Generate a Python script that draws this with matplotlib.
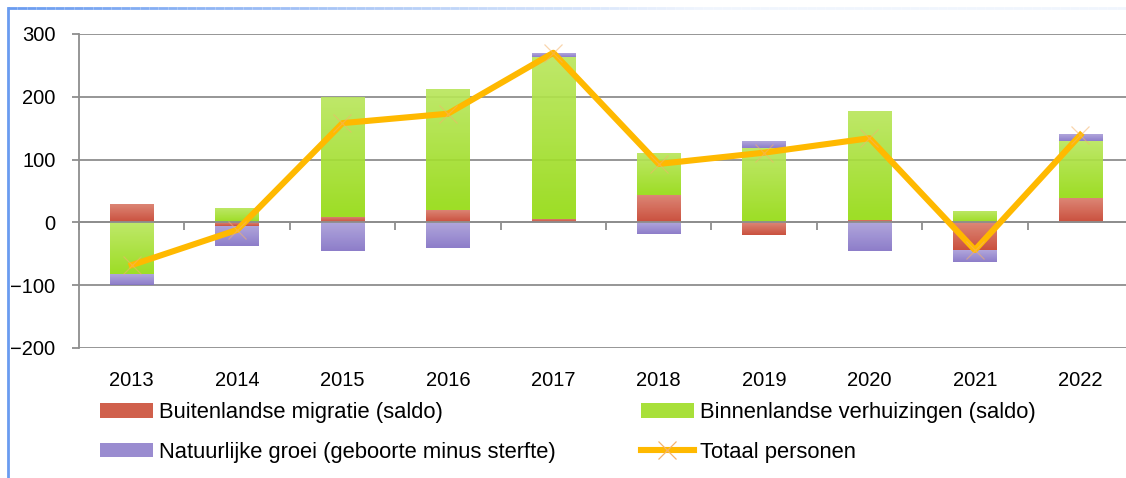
import matplotlib
matplotlib.use("Agg")
import matplotlib.pyplot as plt
import numpy as np
from matplotlib.colors import LinearSegmentedColormap, to_rgb
from matplotlib.patches import Patch
from matplotlib.lines import Line2D
from matplotlib.collections import LineCollection

plt.rcParams["font.family"] = ["Liberation Sans", "DejaVu Sans"]

years = ["2013", "2014", "2015", "2016", "2017", "2018", "2019", "2020", "2021", "2022"]
buitenland = [30, -5, 8, 20, 5, 43, -20, 4, -44, 39]
binnenland = [-82, 23, 192, 192, 258, 67, 118, 174, 18, 91]
natuurlijk = [-17, -32, -45, -41, 6, -19, 11, -45, -19, 10]
totaal = [-68, -12, 158, 173, 270, 93, 111, 134, -44, 139]

series = [
    ("Buitenlandse migratie (saldo)", buitenland, "#da7d6b", "#c6412d"),
    ("Binnenlandse verhuizingen (saldo)", binnenland, "#b9e65c", "#95db12"),
    ("Natuurlijke groei (geboorte minus sterfte)", natuurlijk, "#aa9ed9", "#8372c5"),
]
GRID = "#8e8e8e"
LINE = "#ffb900"
MARK = "#f5b36a"


def gradient_bars(ax, bars, top, bottom):
    cmap = LinearSegmentedColormap.from_list("g", [bottom, top])
    for b in bars:
        x0, y0 = b.get_x(), b.get_y()
        x1, y1 = x0 + b.get_width(), y0 + b.get_height()
        lo, hi = min(y0, y1), max(y0, y1)
        im = ax.imshow(np.linspace(0, 1, 64).reshape(-1, 1), cmap=cmap, origin="lower",
                       extent=(x0, x1, lo, hi), aspect="auto", zorder=2, alpha=0.92,
                       interpolation="bicubic")
        im.set_clip_path(b)


fig = plt.figure(figsize=(11.26, 4.78), dpi=100)
ax = fig.add_axes([79 / 1126, 0.272, 1054 / 1126, 0.657])

x = np.arange(len(years))
pos = np.zeros(len(years))
neg = np.zeros(len(years))
for label, vals, top, bottom in series:
    v = np.array(vals, dtype=float)
    base = np.where(v >= 0, pos, neg)
    bars = ax.bar(x, v, width=0.41, bottom=base, facecolor="none", edgecolor="none", zorder=2)
    gradient_bars(ax, bars, top, bottom)
    pos = pos + np.where(v >= 0, v, 0)
    neg = neg + np.where(v < 0, v, 0)

ax.plot(x, totaal, color=LINE, lw=4.4, solid_joinstyle="round", zorder=4)
ax.plot(x, totaal, ls="none", marker="x", ms=13, mew=0.9, color=MARK, alpha=0.55, zorder=5)

ax.set_xlim(-0.5, 9.5)
ax.set_ylim(-200, 300)
ax.set_yticks([-200, -100, 0, 100, 200, 300])
ax.grid(axis="y", color=GRID, lw=1.3, zorder=1)
ax.set_axisbelow(True)

for s in ["top", "right"]:
    ax.spines[s].set_visible(False)
ax.spines["left"].set_color(GRID)
ax.spines["left"].set_linewidth(1.3)
ax.spines["bottom"].set_position(("data", 0))
ax.spines["bottom"].set_color(GRID)
ax.spines["bottom"].set_linewidth(1.3)
ax.spines["bottom"].set_zorder(3)

ax.set_xticks(np.arange(-0.5, 10, 1))
ax.tick_params(axis="x", length=6, width=1.3, color=GRID, labelbottom=False)
ax.tick_params(axis="y", length=5, width=1.3, color=GRID, pad=12, labelsize=14.5)

for i, yr in enumerate(years):
    ax.text(i, -0.105, yr, transform=ax.get_xaxis_transform(), ha="center", va="center",
            fontsize=14.5)

handles = [
    Patch(facecolor="#d0604c", edgecolor="none"),
    Patch(facecolor="#9a8cd0", edgecolor="none"),
    Patch(facecolor="#a8e03a", edgecolor="none"),
    Line2D([], [], color=LINE, lw=4.4, marker="x", ms=13, mec=MARK, mew=0.9),
]
labels = [series[0][0], series[2][0], series[1][0], "Totaal personen"]
fig.legend(handles, labels, ncol=2, loc="upper left", bbox_to_anchor=(100 / 1126, 1 - 402 / 478),
           frameon=False, prop={"size": 15.8},
           handlelength=2.4, handleheight=0.65, handletextpad=0.28, columnspacing=3.9,
           labelspacing=0.85, borderpad=0, borderaxespad=0)

# blue frame on the left and top, fading out to the right
fig.add_artist(Line2D([8 / 1126, 8 / 1126], [1 - 8 / 478, 1 - 477 / 478], color="#6a9cf0",
                      lw=2, transform=fig.transFigure))
xs = np.linspace(8 / 1126, 1, 120)
segs = [[(xs[i], 1 - 8 / 478), (xs[i + 1], 1 - 8 / 478)] for i in range(len(xs) - 1)]
c0, c1 = np.array(to_rgb("#6a9cf0")), np.array(to_rgb("#f0f5fd"))
cols = [c0 + (c1 - c0) * min(1, t * 1.6) for t in np.linspace(0, 1, len(segs))]
fig.add_artist(LineCollection(segs, colors=cols, lw=2, transform=fig.transFigure))

fig.savefig("out.png", dpi=100)
